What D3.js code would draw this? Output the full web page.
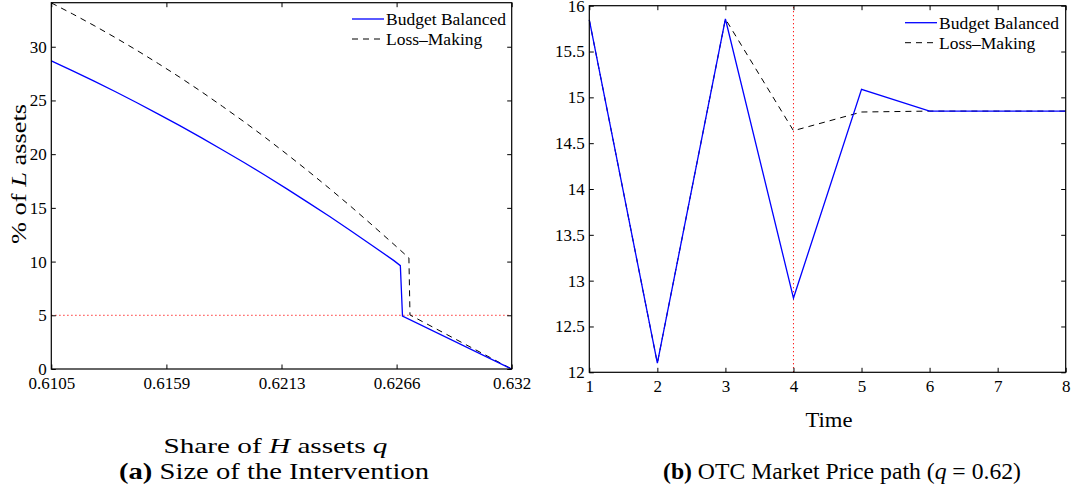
<!DOCTYPE html>
<html>
<head>
<meta charset="utf-8">
<script src="https://cdn.jsdelivr.net/npm/d3@7"></script>
<style>
  html, body { margin: 0; padding: 0; background: #fff; }
  svg { display: block; }
  svg text { font-family: "Liberation Serif", "Times New Roman", serif !important; fill: #000; }
</style>
</head>
<body>
<svg id="chart" width="1074" height="494"></svg>
<script>
// ---------- Panel (a): size of the intervention ----------
const qBudget = [0.6105, 0.6115, 0.6125, 0.6135, 0.6145, 0.6155, 0.6165, 0.6175, 0.6185, 0.6195,
                 0.6205, 0.6215, 0.6225, 0.6235, 0.6245, 0.6255, 0.6265, 0.6268, 0.6269, 0.632];
const pctBudget = [28.68, 27.75, 26.80, 25.81, 24.79, 23.73, 22.65, 21.54, 20.39, 19.22,
                   18.01, 16.77, 15.49, 14.19, 12.85, 11.48, 10.09, 9.62, 4.93, 0];
const qLoss = [0.6105, 0.6115, 0.6125, 0.6135, 0.6145, 0.6155, 0.6165, 0.6175, 0.6185, 0.6195,
               0.6205, 0.6215, 0.6225, 0.6235, 0.6245, 0.6255, 0.6265, 0.6272, 0.62725, 0.632];
const pctLoss = [34.08, 33.05, 31.97, 30.84, 29.66, 28.43, 27.16, 25.83, 24.44, 23.02,
                 21.54, 20.00, 18.42, 16.79, 15.11, 13.37, 11.60, 10.34, 5.03, 0];
const thresholdPct = 5;
const qTickValues = [0.6105, 0.615875, 0.62125, 0.626625, 0.632];
const qTickLabels = ["0.6105", "0.6159", "0.6213", "0.6266", "0.632"];
const pctTicks = [0, 5, 10, 15, 20, 25, 30];

// ---------- Panel (b): OTC market price path ----------
const timeSteps = [1, 2, 3, 4, 5, 6, 7, 8];
const priceBudget = [15.845, 12.10, 15.855, 12.81, 15.088, 14.85, 14.85, 14.85];
const priceLoss   = [15.845, 12.10, 15.855, 14.636, 14.84, 14.85, 14.85, 14.85];
const interventionTime = 4;
const timeTicks = [1, 2, 3, 4, 5, 6, 7, 8];
const priceTicks = [12, 12.5, 13, 13.5, 14, 14.5, 15, 15.5, 16];

const seriesNames = ["Budget Balanced", "Loss\u2013Making"];
const blue = "#0000ff";
const SERIF = '"Liberation Serif", "Times New Roman", serif';

const svg = d3.select("#chart");
const TICK = 4.5;
const tickFont = "17px";

function panel(opts) {
  const g = svg.append("g");
  const { x, y } = opts;
  const [x0, x1] = x.range();
  const [y0, y1] = y.range(); // y0 bottom, y1 top

  if (opts.refLine) {
    g.append("line")
      .attr("x1", opts.refLine.x1).attr("x2", opts.refLine.x2)
      .attr("y1", opts.refLine.y1).attr("y2", opts.refLine.y2)
      .attr("stroke", "#ff0000").attr("stroke-width", 1)
      .attr("stroke-dasharray", "1.2,2.8");
  }

  const line = d3.line().x(d => x(d[0])).y(d => y(d[1]));
  g.append("path").datum(d3.zip(opts.lossX, opts.lossY))
    .attr("d", line).attr("fill", "none").attr("stroke", "#000")
    .attr("stroke-width", 1).attr("stroke-dasharray", "6,5");
  g.append("path").datum(d3.zip(opts.budX, opts.budY))
    .attr("d", line).attr("fill", "none").attr("stroke", blue)
    .attr("stroke-width", 1.3);

  const ax = (gen, tx, ty, labels) => {
    const a = g.append("g").attr("transform", `translate(${tx},${ty})`).call(gen);
    a.attr("font-family", SERIF).attr("font-size", null);
    a.select(".domain").remove();
    a.selectAll(".tick line").attr("stroke", "#000").attr("stroke-width", 1);
    a.selectAll("text").style("font-size", tickFont).style("font-family", SERIF).attr("fill", "#000");
    if (!labels) a.selectAll("text").remove();
    return a;
  };
  const bottom = d3.axisBottom(x).tickValues(opts.xTicks).tickSizeInner(-TICK).tickSizeOuter(0).tickPadding(7.5);
  bottom.tickFormat(opts.xLabels ? ((d, i) => opts.xLabels[i]) : d3.format("d"));
  ax(bottom, 0, y0, true);
  ax(d3.axisTop(x).tickValues(opts.xTicks).tickSizeInner(-TICK).tickSizeOuter(0), 0, y1, false);
  ax(d3.axisLeft(y).tickValues(opts.yTicks).tickSizeInner(-TICK).tickSizeOuter(0).tickPadding(4.5)
       .tickFormat(d3.format("~g")), x0, 0, true);
  ax(d3.axisRight(y).tickValues(opts.yTicks).tickSizeInner(-TICK).tickSizeOuter(0), x1, 0, false);

  g.append("rect").attr("x", x0).attr("y", y1).attr("width", x1 - x0).attr("height", y0 - y1)
    .attr("fill", "none").attr("stroke", "#000").attr("stroke-width", 1.2);

  const L = opts.legend;
  const lg = g.append("g");
  lg.append("line").attr("x1", L.x).attr("x2", L.x + 32).attr("y1", L.y).attr("y2", L.y)
    .attr("stroke", blue).attr("stroke-width", 1.3);
  lg.append("line").attr("x1", L.x).attr("x2", L.x + 32).attr("y1", L.y + 20).attr("y2", L.y + 20)
    .attr("stroke", "#000").attr("stroke-width", 1).attr("stroke-dasharray", "6,5");
  lg.append("text").attr("x", L.x + 34).attr("y", L.y + 6).style("font-size", "17.5px").text(seriesNames[0]);
  lg.append("text").attr("x", L.x + 34).attr("y", L.y + 26).style("font-size", "17.5px").text(seriesNames[1]);
  return g;
}

// Panel (a)
const xA = d3.scaleLinear().domain([0.6105, 0.632]).range([51.3, 511.7]);
const yA = d3.scaleLinear().domain([0, 34.1]).range([369, 2.7]);
panel({
  x: xA, y: yA,
  budX: qBudget, budY: pctBudget, lossX: qLoss, lossY: pctLoss,
  xTicks: qTickValues, xLabels: qTickLabels, yTicks: pctTicks,
  refLine: { x1: xA(0.6105), x2: xA(0.632), y1: yA(thresholdPct), y2: yA(thresholdPct) },
  legend: { x: 352, y: 19 }
});

// Panel (b)
const xB = d3.scaleLinear().domain([1, 8]).range([589.3, 1065.7]);
const yB = d3.scaleLinear().domain([12, 16]).range([372.3, 5.7]);
panel({
  x: xB, y: yB,
  budX: timeSteps, budY: priceBudget, lossX: timeSteps, lossY: priceLoss,
  xTicks: timeTicks, yTicks: priceTicks,
  refLine: { x1: xB(interventionTime), x2: xB(interventionTime), y1: yB(12), y2: yB(16) },
  legend: { x: 905, y: 22.7 }
});

// Axis labels
const ylab = svg.append("text")
  .attr("transform", "translate(26,174) rotate(-90)")
  .attr("text-anchor", "middle").style("font-size", "22px")
  .attr("textLength", 140).attr("lengthAdjust", "spacingAndGlyphs");
ylab.append("tspan").text("% of ");
ylab.append("tspan").style("font-style", "italic").text("L");
ylab.append("tspan").text(" assets");

const xlabA = svg.append("text").attr("x", 275.5).attr("y", 453)
  .attr("text-anchor", "middle").style("font-size", "22px")
  .attr("textLength", 224).attr("lengthAdjust", "spacingAndGlyphs");
xlabA.append("tspan").text("Share of ");
xlabA.append("tspan").style("font-style", "italic").text("H");
xlabA.append("tspan").text(" assets ");
xlabA.append("tspan").style("font-style", "italic").text("q");

svg.append("text").attr("x", 829).attr("y", 427)
  .attr("text-anchor", "middle").style("font-size", "22px")
  .attr("textLength", 47).attr("lengthAdjust", "spacingAndGlyphs").text("Time");

// Captions
const capA = svg.append("text").attr("x", 274).attr("y", 479)
  .attr("text-anchor", "middle").style("font-size", "23px")
  .attr("textLength", 310).attr("lengthAdjust", "spacingAndGlyphs");
capA.append("tspan").style("font-weight", "bold").text("(a)");
capA.append("tspan").text(" Size of the Intervention");

const capB = svg.append("text").attr("x", 842).attr("y", 479)
  .attr("text-anchor", "middle").style("font-size", "23px")
  .attr("textLength", 358).attr("lengthAdjust", "spacingAndGlyphs");
capB.append("tspan").style("font-weight", "bold").text("(b)");
capB.append("tspan").text(" OTC Market Price path (");
capB.append("tspan").style("font-style", "italic").text("q");
capB.append("tspan").text(" = 0.62)");
</script>
</body>
</html>
